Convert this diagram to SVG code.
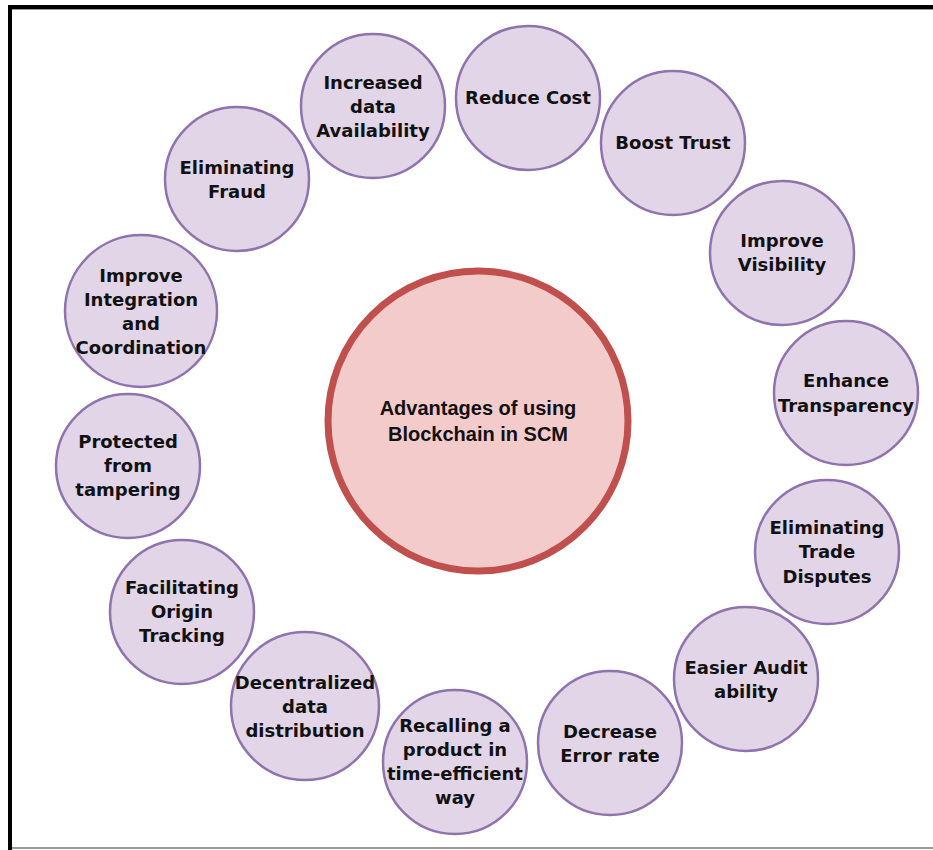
<svg xmlns="http://www.w3.org/2000/svg" width="933" height="850" viewBox="0 0 933 850">
<style>
.n{fill:#e1d5e7;stroke:#8f73ad;stroke-width:2.5}
.t{font-family:"DejaVu Sans",Verdana,sans-serif;font-weight:bold;font-size:18px;fill:#111;text-anchor:middle}
.c{font-family:"Liberation Sans",Arial,sans-serif;font-weight:bold;font-size:20px;fill:#111;text-anchor:middle}
</style>
<rect x="0" y="0" width="933" height="850" fill="#fff"/>
<g id="frame">
<rect x="8" y="5" width="925" height="4" fill="#000"/>
<rect x="12" y="9" width="921" height="1" fill="#999"/>
<rect x="8" y="5" width="4" height="845" fill="#000"/>
<rect x="12" y="847" width="921" height="2" fill="#999"/>
</g>
<g id="connectors"></g>
<g id="center">
<circle cx="478" cy="421" r="150" fill="#f4cbcb" stroke="#c0504d" stroke-width="7"/>
<text class="c" x="478" y="415">Advantages of using</text>
<text class="c" x="478" y="441">Blockchain in SCM</text>
</g>
<g id="n1"><circle class="n" cx="528" cy="98" r="72"/><text class="t" x="528" y="104">Reduce Cost</text></g>
<g id="n2"><circle class="n" cx="673" cy="143" r="72"/><text class="t" x="673" y="149">Boost Trust</text></g>
<g id="n3"><circle class="n" cx="782" cy="253" r="72"/><text class="t" x="782" y="247">Improve</text><text class="t" x="782" y="271">Visibility</text></g>
<g id="n4"><circle class="n" cx="846" cy="393" r="72"/><text class="t" x="846" y="387">Enhance</text><text class="t" x="846" y="412">Transparency</text></g>
<g id="n5"><circle class="n" cx="827" cy="552" r="72"/><text class="t" x="827" y="534">Eliminating</text><text class="t" x="827" y="558">Trade</text><text class="t" x="827" y="583">Disputes</text></g>
<g id="n6"><circle class="n" cx="746" cy="679" r="72"/><text class="t" x="746" y="674">Easier Audit</text><text class="t" x="746" y="698">ability</text></g>
<g id="n7"><circle class="n" cx="610" cy="743" r="72"/><text class="t" x="610" y="738">Decrease</text><text class="t" x="610" y="762">Error rate</text></g>
<g id="n8"><circle class="n" cx="455" cy="762" r="72"/><text class="t" x="455" y="732">Recalling a</text><text class="t" x="455" y="756">product in</text><text class="t" x="455" y="780">time-efficient</text><text class="t" x="455" y="804">way</text></g>
<g id="n9"><circle class="n" cx="305" cy="706" r="74"/><text class="t" x="305" y="689">Decentralized</text><text class="t" x="305" y="713">data</text><text class="t" x="305" y="737">distribution</text></g>
<g id="n10"><circle class="n" cx="182" cy="612" r="72"/><text class="t" x="182" y="594">Facilitating</text><text class="t" x="182" y="618">Origin</text><text class="t" x="182" y="642">Tracking</text></g>
<g id="n11"><circle class="n" cx="128" cy="466" r="72"/><text class="t" x="128" y="448">Protected</text><text class="t" x="128" y="472">from</text><text class="t" x="128" y="496">tampering</text></g>
<g id="n12"><circle class="n" cx="141" cy="311" r="76"/><text class="t" x="141" y="282">Improve</text><text class="t" x="141" y="306">Integration</text><text class="t" x="141" y="330">and</text><text class="t" x="141" y="354">Coordination</text></g>
<g id="n13"><circle class="n" cx="237" cy="179" r="72"/><text class="t" x="237" y="174">Eliminating</text><text class="t" x="237" y="198">Fraud</text></g>
<g id="n14"><circle class="n" cx="373" cy="106" r="72"/><text class="t" x="373" y="89">Increased</text><text class="t" x="373" y="113">data</text><text class="t" x="373" y="137">Availability</text></g>
</svg>
